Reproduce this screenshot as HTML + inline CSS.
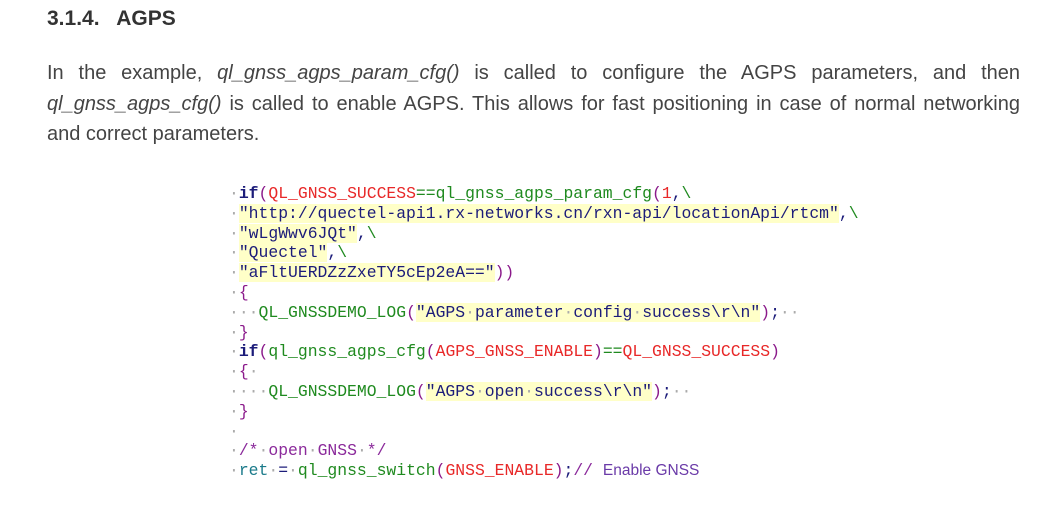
<!DOCTYPE html>
<html><head><meta charset="utf-8"><style>
body{margin:0;background:#fff;width:1061px;height:510px;overflow:hidden;font-family:"Liberation Sans",sans-serif;color:#333;position:relative}
h3{position:absolute;left:47px;top:7px;margin:0;font-size:21px;font-weight:bold;color:#333}
.para{position:absolute;left:47px;top:58px;width:973px;margin:0;font-size:20px;line-height:30.5px;color:#444}
.para div{text-align:justify;text-align-last:justify;white-space:nowrap}
.para div.last{text-align-last:left}
.code{position:absolute;left:229px;top:184px;font-family:"Liberation Mono",monospace;font-size:16.4px;line-height:19.8px;white-space:pre;color:#1c1c7a}
.d{color:#aaa}
.k{color:#1c1c7a;font-weight:bold}
.r{color:#e82828}
.g{color:#1f8a1f}
.p{color:#8b1a8b}
.s{background:#ffffc8;color:#1c1c7a}
.t{color:#1a7a8a}
.c{color:#8b2a9b}
.e{font-family:"Liberation Sans",sans-serif;color:#6a3aa8;font-size:15.5px}
</style></head><body>
<h3>3.1.4.&nbsp;&nbsp; AGPS</h3>
<div class="para">
<div>In the example, <i>ql_gnss_agps_param_cfg()</i> is called to configure the AGPS parameters, and then</div>
<div><i>ql_gnss_agps_cfg()</i> is called to enable AGPS. This allows for fast positioning in case of normal networking</div>
<div class="last">and correct parameters.</div>
</div>
<div class="code"><span class="d">·</span><span class="k">if</span><span class="p">(</span><span class="r">QL_GNSS_SUCCESS</span><span class="g">==ql_gnss_agps_param_cfg</span><span class="p">(</span><span class="r">1</span>,<span class="g">\</span>
<span class="d">·</span><span class="s">"http://quectel-api1.rx-networks.cn/rxn-api/locationApi/rtcm"</span>,<span class="g">\</span>
<span class="d">·</span><span class="s">"wLgWwv6JQt"</span>,<span class="g">\</span>
<span class="d">·</span><span class="s">"Quectel"</span>,<span class="g">\</span>
<span class="d">·</span><span class="s">"aFltUERDZzZxeTY5cEp2eA=="</span><span class="p">))</span>
<span class="d">·</span><span class="p">{</span>
<span class="d">···</span><span class="g">QL_GNSSDEMO_LOG</span><span class="p">(</span><span class="s">"AGPS<span class="d">·</span>parameter<span class="d">·</span>config<span class="d">·</span>success\r\n"</span><span class="p">)</span>;<span class="d">··</span>
<span class="d">·</span><span class="p">}</span>
<span class="d">·</span><span class="k">if</span><span class="p">(</span><span class="g">ql_gnss_agps_cfg</span><span class="p">(</span><span class="r">AGPS_GNSS_ENABLE</span><span class="p">)</span><span class="g">==</span><span class="r">QL_GNSS_SUCCESS</span><span class="p">)</span>
<span class="d">·</span><span class="p">{</span><span class="d">·</span>
<span class="d">····</span><span class="g">QL_GNSSDEMO_LOG</span><span class="p">(</span><span class="s">"AGPS<span class="d">·</span>open<span class="d">·</span>success\r\n"</span><span class="p">)</span>;<span class="d">··</span>
<span class="d">·</span><span class="p">}</span>
<span class="d">·</span>
<span class="d">·</span><span class="c">/*<span class="d">·</span>open<span class="d">·</span>GNSS<span class="d">·</span>*/</span>
<span class="d">·</span><span class="t">ret</span><span class="d">·</span>=<span class="d">·</span><span class="g">ql_gnss_switch</span><span class="p">(</span><span class="r">GNSS_ENABLE</span><span class="p">)</span>;<span class="c">//</span> <span class="e">Enable GNSS</span></div>
</body></html>
